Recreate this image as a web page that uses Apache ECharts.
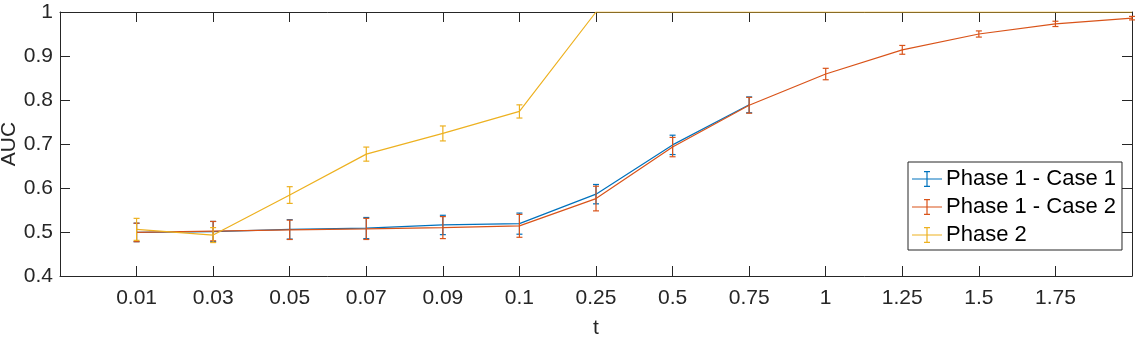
<!DOCTYPE html>
<html>
<head>
<meta charset="utf-8">
<script src="https://cdn.jsdelivr.net/npm/echarts@6/dist/echarts.min.js"></script>
<style>
html,body{margin:0;padding:0;background:#fff;}
#c{width:1136px;height:338px;}
</style>
</head>
<body>
<div id="c"></div>
<script>
const tLabels = ['0.01','0.03','0.05','0.07','0.09','0.1','0.25','0.5','0.75','1','1.25','1.5','1.75','2'];
const yTicks = [0.4,0.5,0.6,0.7,0.8,0.9,1];
const case1Mean = [0.499,0.501,0.506,0.509,0.516,0.519,0.586,0.698,0.789];
const case1Err  = [0.021,0.023,0.022,0.024,0.022,0.024,0.022,0.022,0.018];
const case2Mean = [0.499,0.502,0.505,0.507,0.510,0.514,0.576,0.693,0.788,0.859,0.914,0.950,0.973,0.986];
const case2Err  = [0.021,0.022,0.022,0.024,0.025,0.026,0.028,0.022,0.018,0.013,0.010,0.007,0.006,0.004];
const phase2Mean = [0.506,0.493,0.584,0.677,0.724,0.774,1,1,1,1,1,1,1,1];
const phase2Err  = [0.025,0.017,0.019,0.016,0.017,0.015,0,0,0,0,0,0,0,0];
const seriesNames = ['Phase 1 - Case 1','Phase 1 - Case 2','Phase 2'];
const colors = ['#0072BD','#D95319','#EDB120'];

const FONT = "'Liberation Sans', Arial, Helvetica, sans-serif";
const AX = '#262626';

function lineData(mean){ return mean.map((v,i)=>[i+1,v]); }
function errData(mean,err){ return mean.map((v,i)=>[i+1,v-err[i],v+err[i]]); }

function errRender(color){
  return function(params, api){
    const x = api.value(0);
    const lo = api.coord([x, api.value(1)]);
    const hi = api.coord([x, api.value(2)]);
    if (Math.abs(hi[1]-lo[1]) < 0.5) return null;
    const w = 3;
    const st = {stroke: color, lineWidth: 1.2};
    return {type:'group', children:[
      {type:'line', shape:{x1:lo[0],y1:lo[1],x2:hi[0],y2:hi[1]}, style:st},
      {type:'line', shape:{x1:lo[0]-w,y1:lo[1],x2:lo[0]+w,y2:lo[1]}, style:st},
      {type:'line', shape:{x1:hi[0]-w,y1:hi[1],x2:hi[0]+w,y2:hi[1]}, style:st}
    ]};
  };
}

const means = [case1Mean, case2Mean, phase2Mean];
const errs = [case1Err, case2Err, phase2Err];
const series = [];
for (let k=0;k<3;k++){
  series.push({
    name: seriesNames[k], type:'line', data: lineData(means[k]),
    showSymbol:false, symbol:'none', color: colors[k],
    lineStyle:{color: colors[k], width:1.2}, itemStyle:{color: colors[k]},
    animation:false, z:3+k
  });
  series.push({
    name: seriesNames[k], type:'custom', data: errData(means[k], errs[k]),
    renderItem: errRender(colors[k]), encode:{x:0,y:[1,2]},
    animation:false, z:3+k, silent:true
  });
}

const icon = 'path://M0,7.5h30v1h-30z M14.4,0h1.2v16h-1.2z M12,0h6v1.2h-6z M12,14.8h6v1.2h-6z';

const chart = echarts.init(document.getElementById('c'), null, {renderer:'canvas'});
chart.setOption({
  animation:false,
  backgroundColor:'#fff',
  textStyle:{fontFamily:FONT},
  grid:{left:60, right:4, top:12, bottom:62, containLabel:false, outerBoundsMode:'none'},
  legend:{
    data: seriesNames.map((n,k)=>({name:n, icon:icon, itemStyle:{color:colors[k]}})),
    orient:'vertical', left:908, top:162,
    itemWidth:30, itemHeight:16, itemGap:6,
    padding:[6,6,4,4],
    backgroundColor:'#fff', borderColor:AX, borderWidth:1, borderRadius:0,
    textStyle:{fontFamily:FONT, fontSize:22, color:'#000', padding:[0,0,0,-1]},
    selectedMode:false
  },
  xAxis:[{
    type:'value', min:0, max:14, interval:1, position:'bottom',
    name:'t', nameLocation:'middle', nameGap:42, nameMoveOverlap:false,
    nameTextStyle:{fontFamily:FONT, fontSize:21, color:AX},
    axisLine:{show:true, onZero:false, lineStyle:{color:AX, width:1}},
    axisTick:{show:true, inside:true, length:10, lineStyle:{color:AX, width:1}},
    axisLabel:{show:true, margin:12, fontFamily:FONT, fontSize:21, color:AX,
      formatter:function(v){ const i=Math.round(v); return (i>=1 && i<=13) ? tLabels[i-1] : ''; }},
    splitLine:{show:false}
  },{
    type:'value', min:0, max:14, interval:1, position:'top',
    axisLine:{show:true, onZero:false, lineStyle:{color:AX, width:1}},
    axisTick:{show:true, inside:true, length:10, lineStyle:{color:AX, width:1}},
    axisLabel:{show:false}, splitLine:{show:false}
  }],
  yAxis:[{
    type:'value', min:0.4, max:1, interval:0.1, position:'left',
    name:'AUC', nameLocation:'middle', nameGap:40, nameRotate:90, nameMoveOverlap:false,
    nameTextStyle:{fontFamily:FONT, fontSize:21, color:AX},
    axisLine:{show:true, onZero:false, lineStyle:{color:AX, width:1}},
    axisTick:{show:true, inside:true, length:10, lineStyle:{color:AX, width:1}},
    axisLabel:{show:true, margin:7, fontFamily:FONT, fontSize:21, color:AX,
      formatter:function(v){ const r=Math.round(v*10)/10; const f=yTicks.find(t=>Math.abs(t-r)<1e-9); return f===undefined?'':String(f); }},
    splitLine:{show:false}
  },{
    type:'value', min:0.4, max:1, interval:0.1, position:'right',
    axisLine:{show:true, onZero:false, lineStyle:{color:AX, width:1}},
    axisTick:{show:true, inside:true, length:10, lineStyle:{color:AX, width:1}},
    axisLabel:{show:false}, splitLine:{show:false}
  }],
  series: series
});
</script>
</body>
</html>
